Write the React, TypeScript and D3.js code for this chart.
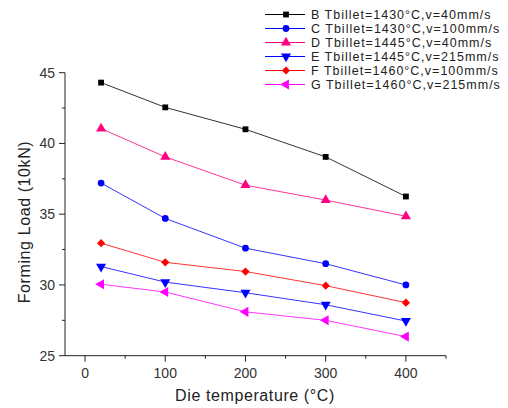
import React from 'react';
import * as d3 from 'd3';

// die temperature (°C)
const temps = [20, 100, 200, 300, 400];

const seriesNames = [
  'B Tbillet=1430°C,v=40mm/s',
  'C Tbillet=1430°C,v=100mm/s',
  'D Tbillet=1445°C,v=40mm/s',
  'E Tbillet=1445°C,v=215mm/s',
  'F Tbillet=1460°C,v=100mm/s',
  'G Tbillet=1460°C,v=215mm/s',
];

// forming load (10kN)
const loadB = [44.3, 42.55, 41.0, 39.05, 36.25];
const loadC = [37.2, 34.7, 32.6, 31.5, 30.0];
const loadD = [41.05, 39.05, 37.05, 36.0, 34.85];
const loadE = [31.3, 30.2, 29.45, 28.6, 27.45];
const loadF = [32.95, 31.6, 30.95, 29.95, 28.75];
const loadG = [30.05, 29.5, 28.1, 27.5, 26.35];

const xTicks = [0, 100, 200, 300, 400];
const yTicks = [25, 30, 35, 40, 45];

const colors = ['#000000', '#0000ff', '#ff0080', '#0000ff', '#ff0000', '#ff00ff'];
const shapes = ['square', 'circle', 'up', 'down', 'diamond', 'left'];

const width = 508;
const height = 408;
const font = 'Arial, "Liberation Sans", sans-serif';

function markerPath(shape: string) {
  const sq = d3.symbol().type(d3.symbolSquare).size(34)()!;
  const ci = d3.symbol().type(d3.symbolCircle).size(36)()!;
  const tr = d3.symbol().type(d3.symbolTriangle).size(44)()!;
  if (shape === 'square') return { d: sq, rot: 0 };
  if (shape === 'circle') return { d: ci, rot: 0 };
  if (shape === 'up') return { d: tr, rot: 0 };
  if (shape === 'down') return { d: tr, rot: 180 };
  if (shape === 'left') return { d: tr, rot: -90 };
  return { d: sq, rot: 45 };
}

export default function App() {
  const x = d3.scaleLinear().domain([-25, 450]).range([65, 446]);
  const y = d3.scaleLinear().domain([25, 45]).range([355.7, 72.7]);
  const all = [loadB, loadC, loadD, loadE, loadF, loadG];
  const line = d3
    .line<number>()
    .x((_, i) => x(temps[i]))
    .y((d) => y(d));

  const xMinor = d3.range(50, 451, 100);
  const yMinor = d3.range(27.5, 45, 5);
  const axisColor = '#222';

  return (
    <svg
      width={width}
      height={height}
      style={{ position: 'absolute', left: 0, top: 0, background: '#fff' }}
      fontFamily={font}
    >
      {/* axes */}
      <line x1={65} x2={65} y1={y(45)} y2={y(25)} stroke={axisColor} strokeWidth={1} />
      <line x1={65} x2={446} y1={y(25)} y2={y(25)} stroke={axisColor} strokeWidth={1} />
      {yTicks.map((t) => (
        <g key={'y' + t}>
          <line x1={59} x2={65} y1={y(t)} y2={y(t)} stroke={axisColor} />
          <text x={55} y={y(t)} dy="0.36em" textAnchor="end" fontSize={14} fill="#333">
            {t}
          </text>
        </g>
      ))}
      {yMinor.map((t) => (
        <line key={'ym' + t} x1={62} x2={65} y1={y(t)} y2={y(t)} stroke={axisColor} />
      ))}
      {xTicks.map((t) => (
        <g key={'x' + t}>
          <line x1={x(t)} x2={x(t)} y1={y(25)} y2={y(25) + 6} stroke={axisColor} />
          <text x={x(t)} y={y(25) + 22} textAnchor="middle" fontSize={14} fill="#333">
            {t}
          </text>
        </g>
      ))}
      {xMinor.map((t) => (
        <line key={'xm' + t} x1={x(t)} x2={x(t)} y1={y(25)} y2={y(25) + 3} stroke={axisColor} />
      ))}

      {/* axis titles */}
      <text
        transform={`translate(29.5,222) rotate(-90)`}
        textAnchor="middle"
        fontSize={16}
        letterSpacing={0.6}
        fill="#222"
      >
        Forming Load (10kN)
      </text>
      <text x={255} y={401} textAnchor="middle" fontSize={16} letterSpacing={0.6} fill="#222">
        Die temperature (°C)
      </text>

      {/* series */}
      {all.map((vals, si) => {
        const m = markerPath(shapes[si]);
        return (
          <g key={'s' + si}>
            <path d={line(vals)!} fill="none" stroke={colors[si]} strokeWidth={1} strokeOpacity={0.8} />
            {vals.map((v, i) => (
              <path
                key={i}
                d={m.d}
                transform={`translate(${x(temps[i])},${y(v)}) rotate(${m.rot})`}
                fill={colors[si]}
              />
            ))}
          </g>
        );
      })}

      {/* legend */}
      {seriesNames.map((name, i) => {
        const ly = 14.5 + i * 14;
        const m = markerPath(shapes[i]);
        return (
          <g key={'l' + i}>
            <line x1={265} x2={305} y1={ly} y2={ly} stroke={colors[i]} strokeWidth={1} />
            <path d={m.d} transform={`translate(286,${ly}) rotate(${m.rot})`} fill={colors[i]} />
            <text x={311} y={ly} dy="0.36em" fontSize={12.5} letterSpacing={1} fill="#222">
              {name}
            </text>
          </g>
        );
      })}
    </svg>
  );
}
